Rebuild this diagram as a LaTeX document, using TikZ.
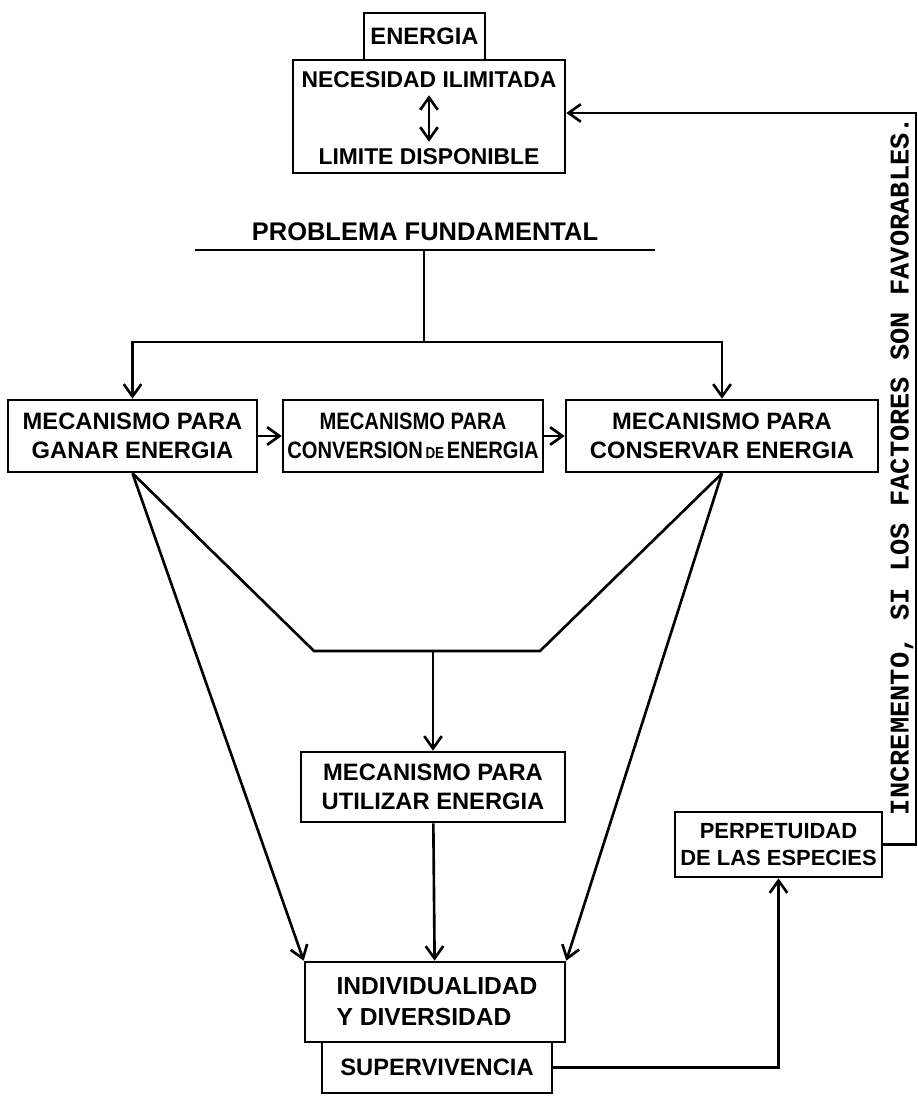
\documentclass[tikz,border=0pt]{standalone}
\usepackage{fontspec}
\setmainfont{Liberation Sans}
\newfontfamily\monofnt{Liberation Mono}
\newfontfamily\condfnt[FakeStretch=0.85]{Liberation Sans}
\usetikzlibrary{arrows.meta,positioning,calc}

\begin{document}
\begin{tikzpicture}[x=0.02cm,y=-0.02cm,line width=1.5pt,
  every node/.style={font=\fontsize{13.5}{16.5}\selectfont\bfseries},
  caja/.style={draw,inner sep=0pt,align=center},
  flecha/.style={-{Straight Barb[length=7pt,width=10pt]}}]
  \useasboundingbox (0,0) rectangle (918,1096);
  % energia: need against what is available
  \node[caja,minimum width=2.42cm,minimum height=0.94cm] (energia) at (424.5,36.5) {ENERGIA};
  \node[caja,minimum width=5.44cm,minimum height=2.26cm] (lim) at (429,116.5) {};
  \node[font=\fontsize{13}{16}\selectfont\bfseries] (nec) at (429,80) {NECESIDAD ILIMITADA};
  \node[font=\fontsize{13}{16}\selectfont\bfseries] (disp) at (429,157) {LIMITE DISPONIBLE};
  \draw[{Straight Barb[length=7pt,width=10pt]}-{Straight Barb[length=7pt,width=10pt]}] (nec) -- (disp);
  % problema fundamental and the split
  \node[font=\fontsize{14.5}{17}\selectfont\bfseries] (prob) at (425,232) {PROBLEMA FUNDAMENTAL};
  \coordinate (pl) at (195,250);
  \coordinate (pr) at (655,250);
  \coordinate (pm) at (424,250);
  \coordinate (split) at (424,342);
  \draw (pl) -- (pr);
  \draw (pm) -- (split);
  % the three mechanisms
  \node[caja,minimum width=4.98cm,minimum height=1.44cm] (ganar) at (132.5,436) {MECANISMO PARA\\GANAR ENERGIA};
  \node[caja,minimum width=5.2cm,minimum height=1.44cm,font=\condfnt\fontsize{13.5}{16.5}\selectfont\bfseries] (conversion) at (413,436) {MECANISMO PARA\\CONVERSION{\fontsize{9}{10}\selectfont\,DE\,}ENERGIA};
  \node[caja,minimum width=6.24cm,minimum height=1.44cm] (conservar) at (722,436) {MECANISMO PARA\\CONSERVAR ENERGIA};
  \draw[flecha] (split) -| (ganar);
  \draw[flecha] (split) -| (conservar);
  \draw[flecha] (ganar) -- (conversion);
  \draw[flecha] (conversion) -- (conservar);
  % trough into the use of energy
  \coordinate (tl) at (314,651);
  \coordinate (tr) at (540,651);
  \coordinate (tm) at (433,651);
  \node[caja,minimum width=5.28cm,minimum height=1.4cm] (utilizar) at (433,787) {MECANISMO PARA\\UTILIZAR ENERGIA};
  \draw (ganar.south) -- (tl) -- (tr) -- (conservar.south);
  \draw[flecha] (tm) -- (utilizar);
  % individuality, survival
  \node[caja,minimum width=5.2cm,minimum height=1.6cm] (indiv) at (435,1002) {};
  \node[align=left,font=\fontsize{14}{17.5}\selectfont\bfseries] (indivtxt) at (437,1002) {INDIVIDUALIDAD\\Y DIVERSIDAD};
  \node[caja,minimum width=4.6cm,minimum height=1.02cm] (superv) at (437,1067.5) {SUPERVIVENCIA};
  \draw[flecha] (ganar.south) -- (indiv.north west);
  \draw[flecha] (utilizar) -- (indiv);
  \draw[flecha] (conservar.south) -- (indiv.north east);
  % perpetuity and the feedback
  \node[caja,minimum width=4.14cm,minimum height=1.3cm,font=\fontsize{12.5}{15.5}\selectfont\bfseries] (perpet) at (778.5,844.5) {PERPETUIDAD\\DE LAS ESPECIES};
  \draw[flecha] (superv.east) -| (perpet.south);
  \coordinate (fb1) at (916,844.5);
  \coordinate (fb2) at (916,113);
  \draw[flecha] (perpet.east) -- (fb1) -- (fb2) -- (fb2 -| lim.east);
  \node[rotate=90,font=\monofnt\fontsize{15.4}{18}\selectfont\bfseries] (incr) at (902,466) {INCREMENTO, SI LOS FACTORES SON FAVORABLES.};
\end{tikzpicture}
\end{document}
